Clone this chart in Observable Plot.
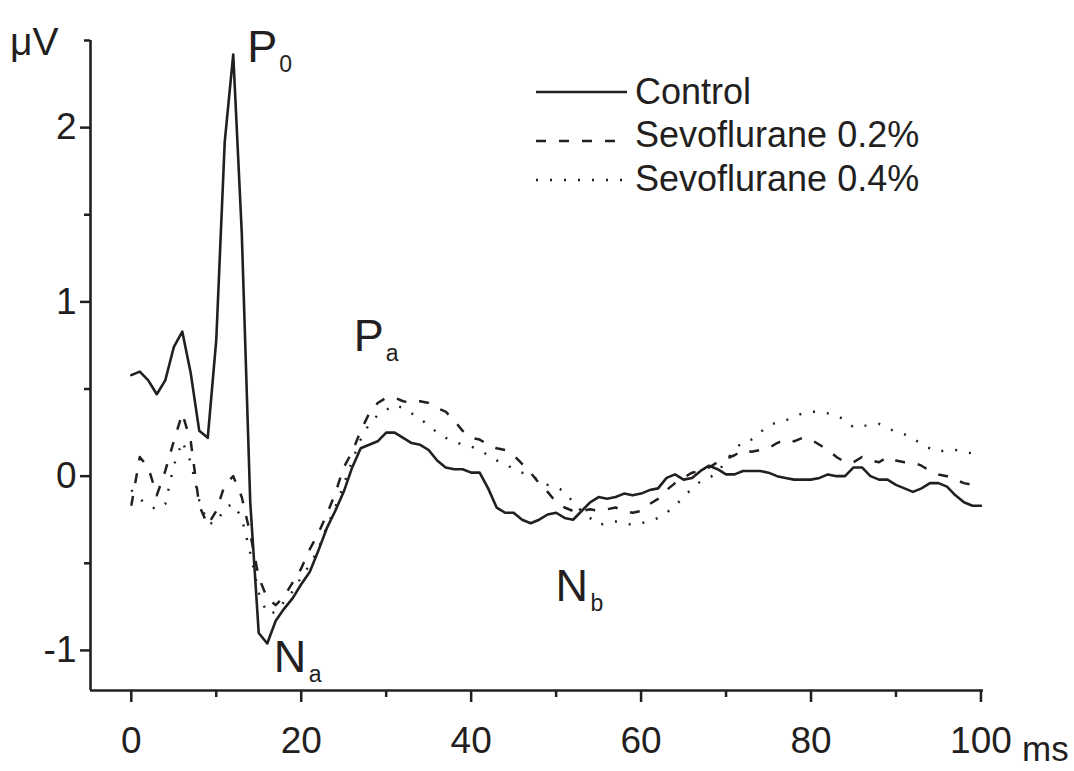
<!DOCTYPE html>
<html>
<head>
<meta charset="utf-8">
<script src="https://cdn.jsdelivr.net/npm/d3@7"></script>
<script src="https://cdn.jsdelivr.net/npm/@observablehq/plot@0.6"></script>
<style>
  html, body { margin: 0; padding: 0; background: #fff; }
  #wrap { position: relative; width: 1074px; height: 771px; font-family: "Liberation Sans", Arial, sans-serif; color: #231f20; }
  #overlay { position: absolute; left: 0; top: 0; pointer-events: none; }
</style>
</head>
<body>
<div id="wrap"></div>
<script>
// ---- data (ms, µV) ----
const time = [0,1,2,3,4,5,6,7,8,9,10,11,12,13,14,15,16,17,18,19,20,21,22,23,24,25,26,27,28,29,30,31,32,33,34,35,36,37,38,39,40,41,42,43,44,45,46,47,48,49,50,51,52,53,54,55,56,57,58,59,60,61,62,63,64,65,66,67,68,69,70,71,72,73,74,75,76,77,78,79,80,81,82,83,84,85,86,87,88,89,90,91,92,93,94,95,96,97,98,99,100];

const control = [
  0.58,0.60,0.55,0.47,0.55,0.74,0.83,0.59,0.26,0.22,
  0.78,1.92,2.42,1.40,-0.15,-0.90,-0.96,-0.83,-0.76,-0.70,
  -0.62,-0.55,-0.43,-0.30,-0.20,-0.09,0.05,0.16,0.18,0.20,
  0.25,0.25,0.22,0.19,0.18,0.15,0.09,0.05,0.04,0.04,
  0.02,0.02,-0.07,-0.18,-0.21,-0.21,-0.25,-0.27,-0.25,-0.22,
  -0.21,-0.24,-0.25,-0.20,-0.15,-0.12,-0.13,-0.12,-0.10,-0.11,
  -0.10,-0.08,-0.07,-0.01,0.01,-0.02,-0.01,0.03,0.06,0.04,
  0.01,0.01,0.03,0.03,0.03,0.02,0.00,-0.01,-0.02,-0.02,
  -0.02,-0.01,0.01,0.00,0.00,0.05,0.05,0.00,-0.02,-0.02,
  -0.05,-0.07,-0.09,-0.07,-0.04,-0.04,-0.06,-0.11,-0.15,-0.17,
  -0.17
];

const sevo02 = [
  -0.17,0.11,0.05,-0.11,0.03,0.20,0.36,0.20,-0.17,-0.28,
  -0.20,-0.05,0.00,-0.12,-0.33,-0.58,-0.70,-0.74,-0.69,-0.61,
  -0.53,-0.42,-0.33,-0.22,-0.10,0.05,0.14,0.26,0.36,0.42,
  0.45,0.45,0.43,0.42,0.43,0.42,0.39,0.37,0.32,0.26,
  0.22,0.21,0.18,0.16,0.15,0.12,0.07,0.02,-0.04,-0.09,
  -0.15,-0.18,-0.20,-0.20,-0.19,-0.20,-0.19,-0.18,-0.20,-0.21,
  -0.20,-0.16,-0.13,-0.08,-0.04,-0.01,0.02,0.03,0.05,0.08,
  0.10,0.12,0.15,0.14,0.15,0.16,0.19,0.21,0.20,0.22,
  0.21,0.18,0.15,0.11,0.08,0.08,0.11,0.09,0.08,0.11,
  0.09,0.08,0.08,0.06,0.03,0.01,0.00,-0.02,-0.04,-0.05,
  -0.06
];

const sevo04 = [
  -0.08,-0.13,-0.17,-0.19,-0.16,0.06,0.20,0.08,-0.14,-0.27,
  -0.27,-0.18,-0.16,-0.24,-0.44,-0.67,-0.79,-0.78,-0.72,-0.66,
  -0.58,-0.51,-0.42,-0.29,-0.18,-0.05,0.09,0.21,0.30,0.35,
  0.38,0.41,0.39,0.36,0.33,0.29,0.25,0.22,0.20,0.18,
  0.17,0.15,0.12,0.09,0.07,0.04,0.02,0.00,-0.02,-0.05,
  -0.06,-0.09,-0.15,-0.20,-0.24,-0.28,-0.27,-0.26,-0.27,-0.28,
  -0.27,-0.26,-0.24,-0.21,-0.17,-0.12,-0.07,-0.03,-0.01,0.02,
  0.09,0.15,0.20,0.21,0.25,0.29,0.31,0.32,0.34,0.36,
  0.37,0.37,0.36,0.35,0.32,0.28,0.29,0.29,0.30,0.28,
  0.25,0.24,0.22,0.18,0.16,0.14,0.15,0.15,0.14,0.13,
  0.12
];

const seriesNames = ["Control", "Sevoflurane 0.2%", "Sevoflurane 0.4%"];
const xTicks = [0, 20, 40, 60, 80, 100];
const xMinorTicks = [10, 30, 50, 70, 90];
const yTicks = [-1, 0, 1, 2];
const yMinorTicks = [-0.5, 0.5, 1.5, 2.5];
const xDomain = [-4.8, 100.3];
const yDomain = [-1.23, 2.5];

// peak annotations (data coordinates)
const peakLabels = [
  {main: "P", sub: "0", t: 13.64, v: 2.375},
  {main: "P", sub: "a", t: 26.19, v: 0.721},
  {main: "N", sub: "a", t: 16.77, v: -1.125},
  {main: "N", sub: "b", t: 49.92, v: -0.714}
];

// ---- build ----
const ink = "#231f20";
const rows = vals => time.map((t, i) => ({t, v: vals[i]}));
const W = 1074, H = 771;

const chart = Plot.plot({
  width: W,
  height: H,
  marginLeft: 90,
  marginRight: 91,
  marginTop: 40,
  marginBottom: 81,
  style: {fontFamily: "'Liberation Sans', Arial, sans-serif", color: ink, background: "#fff"},
  x: {domain: xDomain, label: null},
  y: {domain: yDomain, label: null},
  marks: [
    Plot.ruleX([xDomain[0]], {stroke: ink, strokeWidth: 2.6}),
    Plot.ruleY([yDomain[0]], {stroke: ink, strokeWidth: 2.6}),
    Plot.axisX({ticks: xTicks, tickSize: 12, tickPadding: 24, fontSize: 37, tickFormat: d => String(d), strokeWidth: 2.5, label: null}),
    Plot.axisX({ticks: xMinorTicks, tickSize: 7, fill: "none", strokeWidth: 2.5, label: null}),
    Plot.axisY({ticks: yTicks, tickSize: 10, tickPadding: 4, fontSize: 37, tickFormat: d => String(d), strokeWidth: 2.5, label: null}),
    Plot.axisY({ticks: yMinorTicks, tickSize: 6, fill: "none", strokeWidth: 2.5, label: null}),
    Plot.line(rows(sevo04), {x: "t", y: "v", stroke: ink, strokeWidth: 2.4, strokeDasharray: "2,12", strokeLinecap: "butt"}),
    Plot.line(rows(sevo02), {x: "t", y: "v", stroke: ink, strokeWidth: 2.5, strokeDasharray: "10,13", strokeLinecap: "butt"}),
    Plot.line(rows(control), {x: "t", y: "v", stroke: ink, strokeWidth: 2.6}),
    Plot.text(peakLabels, {x: "t", y: "v", text: "main", textAnchor: "start", lineAnchor: "bottom", fontSize: 45, fill: ink}),
    Plot.text(peakLabels, {filter: d => d.main === "P", x: "t", y: "v", text: "sub", textAnchor: "start", lineAnchor: "bottom", fontSize: 23, dx: 32, dy: 10, fill: ink}),
    Plot.text(peakLabels, {filter: d => d.main === "N", x: "t", y: "v", text: "sub", textAnchor: "start", lineAnchor: "bottom", fontSize: 23, dx: 35, dy: 10, fill: ink})
  ]
});

const wrap = document.getElementById("wrap");
wrap.appendChild(chart);

// ---- legend & unit labels overlay ----
const ns = "http://www.w3.org/2000/svg";
const ov = document.createElementNS(ns, "svg");
ov.setAttribute("id", "overlay");
ov.setAttribute("width", W);
ov.setAttribute("height", H);
ov.setAttribute("font-family", "'Liberation Sans', Arial, sans-serif");
wrap.appendChild(ov);

const legendRows = [
  {name: seriesNames[0], dash: null, lineY: 92, baseY: 104},
  {name: seriesNames[1], dash: "10,13", lineY: 141, baseY: 147},
  {name: seriesNames[2], dash: "2,12", lineY: 180, baseY: 191}
];
for (const r of legendRows) {
  const ln = document.createElementNS(ns, "line");
  ln.setAttribute("x1", 536); ln.setAttribute("x2", r.dash === "2,12" ? 622 : 627);
  ln.setAttribute("y1", r.lineY); ln.setAttribute("y2", r.lineY);
  ln.setAttribute("stroke", ink); ln.setAttribute("stroke-width", 2.4);
  if (r.dash) ln.setAttribute("stroke-dasharray", r.dash);
  ov.appendChild(ln);
  const tx = document.createElementNS(ns, "text");
  tx.setAttribute("x", 635); tx.setAttribute("y", r.baseY);
  tx.setAttribute("font-size", 36); tx.setAttribute("fill", ink);
  tx.textContent = r.name;
  ov.appendChild(tx);
}
const units = [
  {text: "μV", x: 10, y: 55, size: 39},
  {text: "ms", x: 1022, y: 761, size: 35}
];
for (const u of units) {
  const tx = document.createElementNS(ns, "text");
  tx.setAttribute("x", u.x); tx.setAttribute("y", u.y);
  tx.setAttribute("font-size", u.size); tx.setAttribute("fill", ink);
  tx.textContent = u.text;
  ov.appendChild(tx);
}
</script>
</body>
</html>
